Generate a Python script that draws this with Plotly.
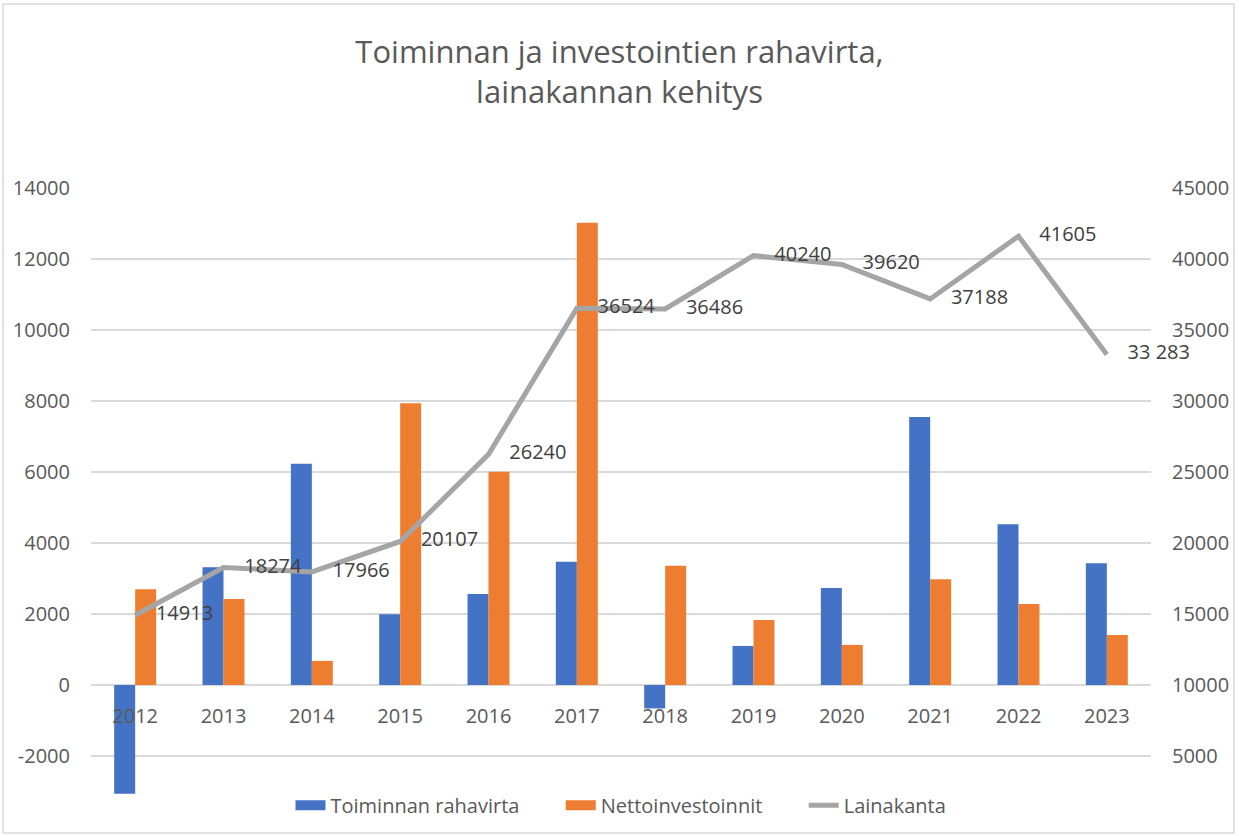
import plotly.graph_objects as go

years = ["2012", "2013", "2014", "2015", "2016", "2017", "2018", "2019", "2020", "2021", "2022", "2023"]
toiminnan_rahavirta = [-3060, 3320, 6230, 1990, 2560, 3470, -660, 1100, 2730, 7550, 4530, 3430]
nettoinvestoinnit = [2700, 2420, 680, 7940, 6010, 13020, 3360, 1830, 1130, 2980, 2280, 1410]
lainakanta = [14913, 18274, 17966, 20107, 26240, 36524, 36486, 40240, 39620, 37188, 41605, 33283]
lainakanta_labels = ["14913", "18274", "17966", "20107", "26240", "36524", "36486", "40240", "39620", "37188", "41605", "33 283"]

left_ticks = [-4000, -2000, 0, 2000, 4000, 6000, 8000, 10000, 12000, 14000]
left_ticktext = ["-4000", "-2000", "0", "2000", "4000", "6000", "8000", "10000", "12000", "14000"]
right_ticks = [0, 5000, 10000, 15000, 20000, 25000, 30000, 35000, 40000, 45000]
right_ticktext = ["0", "5000", "10000", "15000", "20000", "25000", "30000", "35000", "40000", "45000"]

FONT = "Open Sans"
TXT = "#595959"
BLUE = "#4472C4"
ORANGE = "#ED7D31"
GRAY = "#A5A5A5"

fig = go.Figure()
fig.add_trace(go.Bar(x=years, y=toiminnan_rahavirta, name="Toiminnan rahavirta", showlegend=False,
                     marker=dict(color=BLUE, line=dict(width=0))))
fig.add_trace(go.Bar(x=years, y=nettoinvestoinnit, name="Nettoinvestoinnit", showlegend=False,
                     marker=dict(color=ORANGE, line=dict(width=0))))
fig.add_trace(go.Scatter(x=years, y=lainakanta, name="Lainakanta", yaxis="y2", showlegend=False,
                         mode="lines+text", text=["    " + t for t in lainakanta_labels],
                         textposition="middle right", cliponaxis=False,
                         textfont=dict(size=20, color="#404040", family=FONT),
                         line=dict(color=GRAY, width=5)))
# legend entries (wide swatches like the original)
for nm, col, w in [("Toiminnan rahavirta       ", BLUE, 11), ("Nettoinvestoinnit       ", ORANGE, 11), ("Lainakanta", GRAY, 5)]:
    fig.add_trace(go.Scatter(x=[None], y=[None], name=nm, mode="lines",
                             line=dict(color=col, width=w), showlegend=True))

fig.update_layout(
    width=1239, height=836,
    paper_bgcolor="white", plot_bgcolor="white",
    margin=dict(l=91, r=88, t=188, b=9),
    font=dict(family=FONT, color=TXT, size=20),
    title=dict(text="Toiminnan ja investointien rahavirta,<br>lainakannan kehitys",
               x=0.5, xanchor="center", y=1 - 63 / 836, yanchor="middle", yref="container",
               font=dict(size=31, color=TXT, family=FONT)),
    barmode="group", bargap=0.525, bargroupgap=0,
    showlegend=True,
    legend=dict(orientation="h", x=0.5, xanchor="center", y=0.034, yanchor="middle",
                font=dict(size=20, color=TXT), bgcolor="rgba(0,0,0,0)"),
    xaxis=dict(anchor="free", position=4000 / 18000, showgrid=False, showline=False,
               range=[-0.5, len(years) - 0.5], autorange=False,
               ticks="", tickfont=dict(size=20, color=TXT), ticklabelstandoff=17,
               zeroline=False, automargin=False),
    yaxis=dict(range=[-4000, 14000], tickvals=left_ticks, ticktext=left_ticktext,
               showgrid=True, gridcolor="#D9D9D9",
               gridwidth=1.5, zeroline=True, zerolinecolor="#D9D9D9", zerolinewidth=1.5,
               tickfont=dict(size=20, color=TXT), ticklabelstandoff=20, showline=False,
               automargin=False),
    yaxis2=dict(range=[0, 45000], tickvals=right_ticks, ticktext=right_ticktext,
                overlaying="y", side="right", showgrid=False,
                zeroline=False, tickfont=dict(size=20, color=TXT), ticklabelstandoff=20,
                showline=False, automargin=False),
    shapes=[dict(type="rect", xref="paper", yref="paper",
                 x0=(3 - 91) / 1060, x1=(1234 - 91) / 1060,
                 y0=(827 - 833) / 639, y1=(827 - 4) / 639,
                 line=dict(color="#D9D9D9", width=1.5), layer="below")],
)

fig.write_html("out.html", config={"displayModeBar": False},
               post_script="document.body.style.margin='0px';")
